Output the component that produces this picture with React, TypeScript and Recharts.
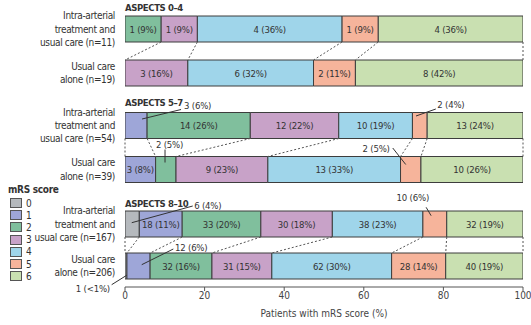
import React from "react";
import {
  BarChart,
  Bar,
  XAxis,
  YAxis,
  LabelList,
  ReferenceLine,
  ReferenceDot,
  Legend
} from "recharts";

const mrsScores = ["0", "1", "2", "3", "4", "5", "6"];
const mrsColors = ["#b5b9bd", "#9ea6d8", "#80bf9d", "#c8a2c8", "#9fd5ea", "#f6b49b", "#c9e0b1"];

const panelTitles = ["ASPECTS 0–4", "ASPECTS 5–7", "ASPECTS 8–10"];

// patients per mRS score 0..6
const iatCounts04 = [0, 0, 1, 1, 4, 1, 4];
const usualCounts04 = [0, 0, 0, 3, 6, 2, 8];
const iatCounts57 = [0, 3, 14, 12, 10, 2, 13];
const usualCounts57 = [0, 3, 2, 9, 13, 2, 10];
const iatCounts810 = [6, 18, 33, 30, 38, 10, 32];
const usualCounts810 = [1, 12, 32, 31, 62, 28, 40];

const iatN = [11, 54, 167];
const usualN = [19, 39, 206];

const xTicks = [0, 20, 40, 60, 80, 100];

// dotted lines join the boundary after mRS k (-1 = left edge)
const connectors = [
  [2, 3, 4, 5, 6],
  [0, 1, 2, 3, 4, 5, 6],
  [-1, 0, 1, 2, 3, 4, 5, 6]
];

// labels drawn outside their segment: key panel-row-mRS, offsets from segment centre
type Callout = { from: [number, number]; to: [number, number]; text: [number, number]; anchor: "start" | "middle" | "end" };
const callouts: Record<string, Callout> = {
  "1-0-1": { from: [6, -6.5], to: [45, -16], text: [48, -20.5], anchor: "start" },
  "1-1-2": { from: [-0.8, -7], to: [-0.8, -20], text: [3.7, -25], anchor: "middle" },
  "1-0-5": { from: [-3.8, -9.5], to: [16, -16.5], text: [17.5, -21.5], anchor: "start" },
  "1-1-5": { from: [-5, -5], to: [-18, -21.5], text: [-21, -21.5], anchor: "end" },
  "2-0-0": { from: [-0.4, -1.3], to: [60.6, -18], text: [62, -19], anchor: "start" },
  "2-0-5": { from: [-3.7, -8.3], to: [-8.7, -16.7], text: [-22, -26.7], anchor: "middle" },
  "2-1-1": { from: [3.2, -1.3], to: [34.8, -17], text: [36.5, -18.7], anchor: "start" },
  "2-1-0": { from: [0.7, 9.3], to: [-14.3, 18.7], text: [-16, 22.7], anchor: "end" }
};

const FONT = "'Liberation Sans Narrow', 'DejaVu Sans Condensed', Lato, sans-serif";
const TEXT = "#333";
const BAR = 26;

const iatCounts = [iatCounts04, iatCounts57, iatCounts810];
const usualCounts = [usualCounts04, usualCounts57, usualCounts810];

function pctText(c: number, n: number) {
  const p = (c / n) * 100;
  return p < 1 ? "<1" : String(Math.round(p));
}

function buildRow(group: string, counts: number[], n: number) {
  const row: any = { group, n };
  counts.forEach((c, k) => {
    row[`m${k}`] = (c / n) * 100;
    row[`l${k}`] = c > 0 ? `${c} (${pctText(c, n)}%)` : "";
  });
  return row;
}

const panels = [0, 1, 2].map((i) => [
  buildRow("iat", iatCounts[i], iatN[i]),
  buildRow("usual", usualCounts[i], usualN[i])
]);

function cum(row: any, k: number) {
  let s = 0;
  for (let j = 0; j <= k; j++) s += row[`m${j}`];
  return s;
}

const groupTick = (panel: number) => (props: any) => {
  const { x, y, payload } = props;
  const lines =
    payload.value === "iat"
      ? ["Intra-arterial", "treatment and", `usual care (n=${iatN[panel]})`]
      : ["Usual care", `alone (n=${usualN[panel]})`];
  return (
    <g>
      {lines.map((t, i) => (
        <text
          key={i}
          x={x}
          y={y + (i - (lines.length - 1) / 2) * 13.3}
          textAnchor="end"
          dominantBaseline="central"
          fontSize={10}
          letterSpacing={-0.35}
          fill={TEXT}
          fontFamily={FONT}
        >
          {t}
        </text>
      ))}
    </g>
  );
};

const segLabel = (panel: number, k: number) => (props: any) => {
  const vb = props.viewBox ?? props;
  const idx = props.index;
  if (callouts[`${panel}-${idx}-${k}`]) return null;
  const text = props.value ?? (idx != null ? panels[panel][idx][`l${k}`] : "");
  if (!text) return null;
  return (
    <text
      x={vb.x + vb.width / 2}
      y={vb.y + vb.height / 2}
      textAnchor="middle"
      dominantBaseline="central"
      fontSize={9.5}
      letterSpacing={-0.2}
      fill={TEXT}
      fontFamily={FONT}
    >
      {text}
    </text>
  );
};

const connectorShape = (p: any) => (
  <line
    x1={p.x1}
    y1={p.y1 + BAR / 2}
    x2={p.x2}
    y2={p.y2 - BAR / 2}
    stroke="#555"
    strokeWidth={1}
    strokeDasharray="2 2"
  />
);

const calloutShape = (spec: Callout, text: string) => (p: any) => {
  const { cx, cy } = p;
  return (
    <g>
      <line
        x1={cx + spec.from[0]}
        y1={cy + spec.from[1]}
        x2={cx + spec.to[0]}
        y2={cy + spec.to[1]}
        stroke="#333"
        strokeWidth={1}
      />
      <text
        x={cx + spec.text[0]}
        y={cy + spec.text[1]}
        textAnchor={spec.anchor}
        dominantBaseline="central"
        fontSize={9.5}
        letterSpacing={-0.2}
        fill={TEXT}
        fontFamily={FONT}
      >
        {text}
      </text>
    </g>
  );
};

const legendContent = (props: any) => (
  <div style={{ fontFamily: FONT, fontSize: 10, color: TEXT, width: 60 }}>
    <div
      style={{
        fontWeight: 700,
        height: 15,
        lineHeight: "15px",
        letterSpacing: -0.3,
        whiteSpace: "nowrap"
      }}
    >
      mRS score
    </div>
    {(props.payload || []).map((item: any) => (
      <div key={item.value} style={{ display: "flex", alignItems: "center", height: 12.2, width: 24 }}>
        <span
          style={{
            display: "inline-block",
            width: 10,
            height: 8,
            background: item.color,
            border: "1px solid #555",
            marginLeft: 2,
            marginRight: 4
          }}
        />
        <span>{item.value}</span>
      </div>
    ))}
  </div>
);

interface PanelProps {
  index: number;
  top: number;
  height: number;
  marginTop: number;
  showAxis?: boolean;
}

function Panel({ index, top, height, marginTop, showAxis }: PanelProps) {
  const data = panels[index];
  const groups = ["iat", "usual"];
  const dots: any[] = [];
  data.forEach((row: any, r: number) => {
    mrsScores.forEach((_, k) => {
      const spec = callouts[`${index}-${r}-${k}`];
      if (!spec) return;
      const mid = cum(row, k - 1) + row[`m${k}`] / 2;
      dots.push(
        <ReferenceDot
          key={`c${r}-${k}`}
          x={mid}
          y={groups[r]}
          r={1}
          ifOverflow="visible"
          shape={calloutShape(spec, row[`l${k}`])}
        />
      );
    });
  });

  return (
    <div style={{ position: "absolute", left: 0, top }}>
      <BarChart
        width={531}
        height={height}
        data={data}
        layout="vertical"
        barSize={BAR}
        margin={{ top: marginTop, right: 8, bottom: showAxis ? 8 : 0, left: 0 }}
      >
        <XAxis
          type="number"
          domain={[0, 100]}
          ticks={xTicks}
          allowDataOverflow
          hide={!showAxis}
          height={30}
          stroke="#555"
          tickSize={4}
          tickMargin={1}
          tick={{ fontSize: 10, fill: "#444", fontFamily: FONT }}
          label={{
            value: "Patients with mRS score (%)",
            position: "insideBottom",
            offset: 0,
            style: { fontSize: 10, fill: "#444", fontFamily: FONT }
          }}
        />
        <YAxis
          type="category"
          dataKey="group"
          width={125}
          axisLine={false}
          tickLine={false}
          tickMargin={4}
          tick={groupTick(index)}
        />
        {mrsScores.map((s, k) => (
          <Bar
            key={s}
            dataKey={`m${k}`}
            name={s}
            stackId="a"
            fill={mrsColors[k]}
            stroke="#3d3d3d"
            strokeWidth={1}
            isAnimationActive={false}
          >
            <LabelList dataKey={`l${k}`} content={segLabel(index, k)} />
          </Bar>
        ))}
        {connectors[index].map((k) => (
          <ReferenceLine
            key={`l${k}`}
            segment={[
              { x: cum(data[0], k), y: "iat" },
              { x: cum(data[1], k), y: "usual" }
            ]}
            ifOverflow="visible"
            shape={connectorShape}
          />
        ))}
        {dots}
        {showAxis && (
          <Legend
            content={legendContent}
            layout="horizontal"
            verticalAlign="middle"
            align="center"
            wrapperStyle={{ left: 8, top: 7, width: 60, height: "auto" }}
          />
        )}
      </BarChart>
    </div>
  );
}

const titleStyle = (top: number): React.CSSProperties => ({
  position: "absolute",
  left: 125,
  top,
  fontFamily: FONT,
  fontWeight: 700,
  fontSize: 9.5,
  letterSpacing: -0.4,
  lineHeight: "12px",
  color: TEXT,
  whiteSpace: "nowrap"
});

export default function App() {
  return (
    <div
      style={{
        position: "absolute",
        left: 0,
        top: 0,
        width: 531,
        height: 325,
        background: "#fff",
        overflow: "hidden"
      }}
    >
      <Panel index={0} top={0} height={95} marginTop={7} />
      <Panel index={1} top={95} height={96.5} marginTop={8.5} />
      <Panel index={2} top={175} height={150} marginTop={28} showAxis />
      <div style={titleStyle(2)}>{panelTitles[0]}</div>
      <div style={titleStyle(96.5)}>{panelTitles[1]}</div>
      <div style={titleStyle(197.5)}>{panelTitles[2]}</div>
    </div>
  );
}
